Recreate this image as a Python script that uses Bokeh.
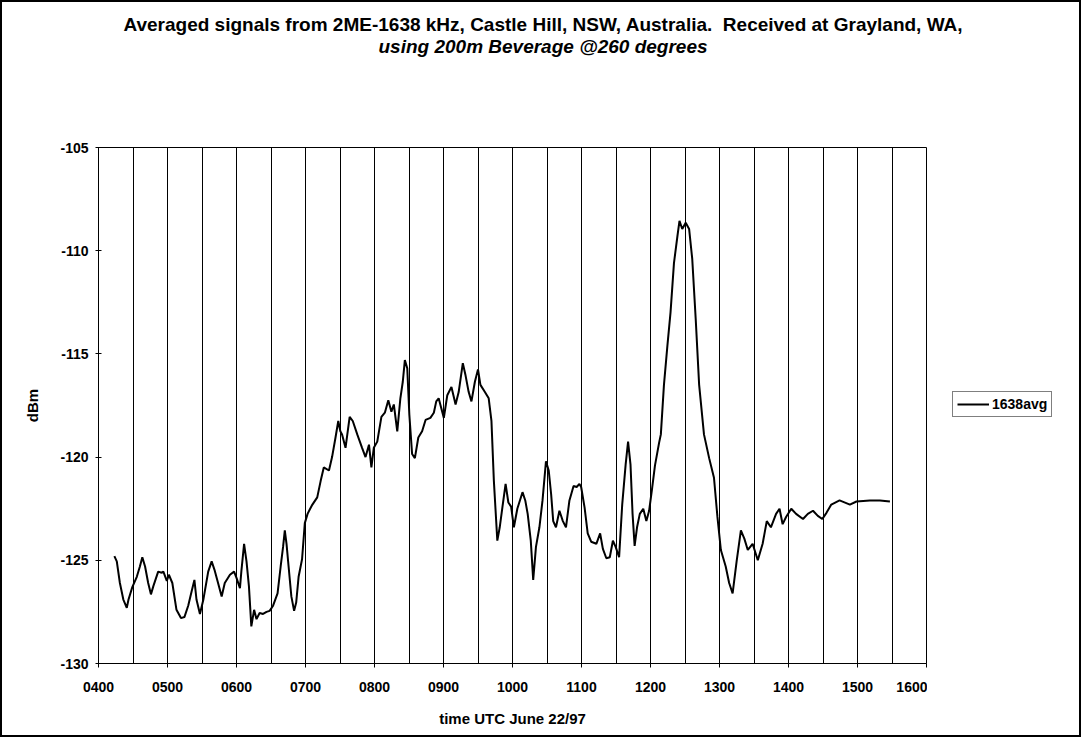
from bokeh.plotting import figure
from bokeh.layouts import column, row
from bokeh.models import FixedTicker, Legend, LegendItem, Div
from bokeh.embed import file_html
from bokeh.resources import INLINE

# ---------------- data ----------------
TITLE_1 = "Averaged signals from 2ME-1638 kHz, Castle Hill, NSW, Australia.  Received at Grayland, WA,"
TITLE_2 = "using 200m Beverage @260 degrees"
X_LABEL = "time UTC June 22/97"
Y_LABEL = "dBm"
SERIES_NAME = "1638avg"

x_tick_hours = [4, 5, 6, 7, 8, 9, 10, 11, 12, 13, 14, 15, 16]
x_tick_labels = ["0400", "0500", "0600", "0700", "0800", "0900", "1000",
                 "1100", "1200", "1300", "1400", "1500", "1600"]
x_grid_hours = [4.5, 5.5, 6.5, 7.5, 8.5, 9.5, 10.5, 11.5, 12.5, 13.5, 14.5, 15.5]
y_ticks = [-130, -125, -120, -115, -110, -105]
y_tick_labels = ["-130", "-125", "-120", "-115", "-110", "-105"]

# time in decimal hours UTC
time_h = [
    4.23, 4.265, 4.31, 4.36, 4.41, 4.435, 4.49, 4.555, 4.60, 4.635, 4.675, 4.72,
    4.76, 4.795, 4.865, 4.915, 4.94, 4.99, 5.02, 5.07, 5.13, 5.195, 5.245, 5.30,
    5.35, 5.39, 5.42, 5.47, 5.52, 5.59, 5.64, 5.68, 5.725, 5.785, 5.83, 5.905,
    5.965, 6.00, 6.05, 6.07, 6.11, 6.145, 6.18, 6.215, 6.255, 6.29, 6.335, 6.385,
    6.435, 6.48, 6.53, 6.595, 6.64, 6.675, 6.70, 6.725, 6.755, 6.795, 6.835, 6.865,
    6.90, 6.95, 6.99, 7.03, 7.06, 7.10, 7.17, 7.22, 7.265, 7.34, 7.385, 7.435,
    7.475, 7.505, 7.53, 7.58, 7.64, 7.685, 7.75, 7.82, 7.87, 7.92, 7.955, 7.99,
    8.04, 8.10, 8.15, 8.20, 8.245, 8.28, 8.33, 8.375, 8.41, 8.44, 8.475, 8.505,
    8.545, 8.585, 8.635, 8.69, 8.74, 8.81, 8.86, 8.895, 8.93, 9.005, 9.055, 9.115,
    9.175, 9.22, 9.28, 9.32, 9.365, 9.405, 9.455, 9.50, 9.535, 9.60, 9.655, 9.695,
    9.73, 9.78, 9.815, 9.855, 9.90, 9.94, 9.98, 10.02, 10.07, 10.145, 10.185, 10.22,
    10.265, 10.30, 10.34, 10.39, 10.435, 10.485, 10.525, 10.56, 10.59, 10.63, 10.68, 10.73,
    10.775, 10.825, 10.885, 10.93, 10.97, 10.995, 11.045, 11.09, 11.14, 11.215, 11.27, 11.31,
    11.36, 11.41, 11.455, 11.495, 11.545, 11.59, 11.64, 11.675, 11.71, 11.74, 11.77, 11.805,
    11.845, 11.895, 11.94, 11.98, 12.02, 12.065, 12.125, 12.15, 12.195, 12.245, 12.29, 12.34,
    12.39, 12.42, 12.46, 12.51, 12.56, 12.605, 12.655, 12.705, 12.775, 12.85, 12.92, 12.97,
    13.02, 13.09, 13.14, 13.19, 13.25, 13.31, 13.36, 13.41, 13.48, 13.555, 13.625, 13.685,
    13.745, 13.82, 13.87, 13.915, 13.965, 14.04, 14.11, 14.21, 14.28, 14.355, 14.425, 14.49,
    14.55, 14.62, 14.74, 14.89, 14.985, 15.18, 15.325, 15.47,
]
dbm = [
    -124.8, -125.05, -126.1, -126.9, -127.3, -126.9, -126.3, -125.8, -125.3, -124.85, -125.3, -126.1,
    -126.65, -126.25, -125.55, -125.6, -125.55, -126.0, -125.7, -126.1, -127.4, -127.8, -127.75, -127.2,
    -126.5, -125.95, -126.9, -127.6, -126.9, -125.55, -125.05, -125.45, -126.0, -126.75, -126.1, -125.7,
    -125.55, -125.85, -126.35, -125.55, -124.2, -125.05, -126.25, -128.2, -127.4, -127.85, -127.55, -127.6,
    -127.5, -127.45, -127.2, -126.6, -125.3, -124.35, -123.55, -124.2, -125.3, -126.75, -127.45, -127.05,
    -125.8, -124.95, -123.2, -122.75, -122.55, -122.3, -121.95, -121.15, -120.5, -120.65, -120.0, -119.05,
    -118.25, -118.75, -118.9, -119.55, -118.05, -118.25, -118.9, -119.55, -120.0, -119.4, -120.5, -119.55,
    -119.25, -118.05, -117.85, -117.25, -117.8, -117.45, -118.75, -117.15, -116.35, -115.3, -115.7, -117.95,
    -119.85, -120.05, -119.05, -118.75, -118.2, -118.1, -117.85, -117.3, -117.15, -118.1, -117.0, -116.6,
    -117.45, -116.85, -115.45, -116.05, -116.85, -117.3, -116.35, -115.75, -116.5, -116.85, -117.15, -118.25,
    -121.15, -124.05, -123.4, -122.4, -121.3, -122.2, -122.4, -123.4, -122.5, -121.7, -122.1, -122.75,
    -124.05, -125.95, -124.35, -123.4, -122.1, -120.2, -120.65, -121.8, -123.1, -123.4, -122.6, -123.1,
    -123.4, -122.1, -121.4, -121.45, -121.3, -121.45, -122.45, -123.7, -124.1, -124.2, -123.7, -124.45,
    -124.9, -124.85, -124.05, -124.35, -124.85, -122.3, -120.35, -119.25, -120.35, -122.75, -124.3, -123.4,
    -122.75, -122.5, -123.1, -122.6, -121.6, -120.4, -119.3, -118.9, -116.5, -114.6, -113.0, -110.6,
    -109.3, -108.55, -108.95, -108.65, -108.95, -110.4, -113.3, -116.5, -118.9, -120.05, -121.0, -122.9,
    -124.5, -125.3, -126.1, -126.6, -125.0, -123.55, -123.95, -124.5, -124.2, -125.0, -124.2, -123.1,
    -123.4, -122.75, -122.5, -123.25, -122.9, -122.5, -122.75, -123.0, -122.75, -122.6, -122.85, -123.0,
    -122.7, -122.3, -122.1, -122.3, -122.15, -122.1, -122.1, -122.15,
]

# ---------------- layout ----------------
FONT = "Liberation Sans"

title_div = Div(
    text=(f'<div style="font-family:\'{FONT}\';font-weight:bold;font-size:19px;'
          f'line-height:22px;text-align:center;padding-top:12px;padding-left:5px;'
          f'box-sizing:border-box;width:1077px;white-space:pre;color:black;">'
          f'{TITLE_1}<br><i>{TITLE_2}</i></div>'),
    width=1077, height=60, margin=0)

p = figure(width=925, height=673, x_range=(4, 16), y_range=(-130, -105),
           output_backend="svg", toolbar_location=None)
p.min_border_left = 96
p.min_border_right = 1
p.min_border_top = 85
p.min_border_bottom = 72
p.background_fill_color = "white"
p.border_fill_color = "white"
p.outline_line_color = "black"
p.outline_line_width = 1

# x axis
p.xaxis.ticker = FixedTicker(ticks=x_tick_hours, minor_ticks=x_grid_hours)
p.xaxis.major_label_overrides = {h: lab for h, lab in zip(x_tick_hours, x_tick_labels)}
p.xaxis.axis_label = X_LABEL
p.xaxis.minor_tick_line_color = None
p.xaxis.major_tick_in = 0
p.xaxis.major_tick_out = 4
p.xaxis.major_label_standoff = 14
p.xaxis.axis_label_standoff = 15

# y axis
p.yaxis.ticker = FixedTicker(ticks=y_ticks)
p.yaxis.major_label_overrides = {v: lab for v, lab in zip(y_ticks, y_tick_labels)}
p.yaxis.axis_label = Y_LABEL
p.yaxis.minor_tick_line_color = None
p.yaxis.major_tick_in = 3
p.yaxis.major_tick_out = 3
p.yaxis.major_label_standoff = 7
p.yaxis.axis_label_standoff = 16

for ax in (p.xaxis, p.yaxis):
    ax.axis_line_color = "black"
    ax.major_tick_line_color = "black"
    ax.major_label_text_font = FONT
    ax.major_label_text_font_style = "bold"
    ax.major_label_text_font_size = "14px"
    ax.major_label_text_color = "black"
    ax.axis_label_text_font = FONT
    ax.axis_label_text_font_style = "bold"
    ax.axis_label_text_font_size = "15px"
    ax.axis_label_text_color = "black"

# grid: vertical lines every half hour
p.xgrid.grid_line_color = "black"
p.xgrid.grid_line_width = 1
p.xgrid.minor_grid_line_color = "black"
p.xgrid.minor_grid_line_width = 1
p.ygrid.grid_line_color = None

r = p.line(time_h, dbm, line_color="black", line_width=2)

# legend lives in a narrow companion figure to the right of the plot area
# (its frame is aligned with the main frame by the row layout)
pl = figure(width=152, height=673, x_range=(0, 1), y_range=(0, 1),
            output_backend="svg", toolbar_location=None,
            x_axis_location=None, y_axis_location=None, min_border=0)
pl.outline_line_color = None
pl.grid.visible = False
pl.background_fill_color = "white"
pl.border_fill_color = "white"
# same series, outside this companion frame's ranges: only its legend key shows
key = pl.line(time_h, dbm, line_color="black", line_width=2)

legend = Legend(items=[LegendItem(label=SERIES_NAME, renderers=[key])],
                location=(25, 246))
legend.border_line_color = "black"
legend.border_line_width = 1
legend.background_fill_color = "white"
legend.background_fill_alpha = 1
legend.padding = 4
legend.margin = 0
legend.spacing = 0
legend.glyph_width = 32
legend.glyph_height = 16
legend.label_standoff = 3
legend.label_text_font = FONT
legend.label_text_font_style = "bold"
legend.label_text_font_size = "14px"
legend.label_text_color = "black"
pl.add_layout(legend)

layout = column(title_div, row(p, pl, spacing=0), spacing=0,
                styles={"border": "2px solid black"})

open("out.html", "w").write(file_html(layout, INLINE))
